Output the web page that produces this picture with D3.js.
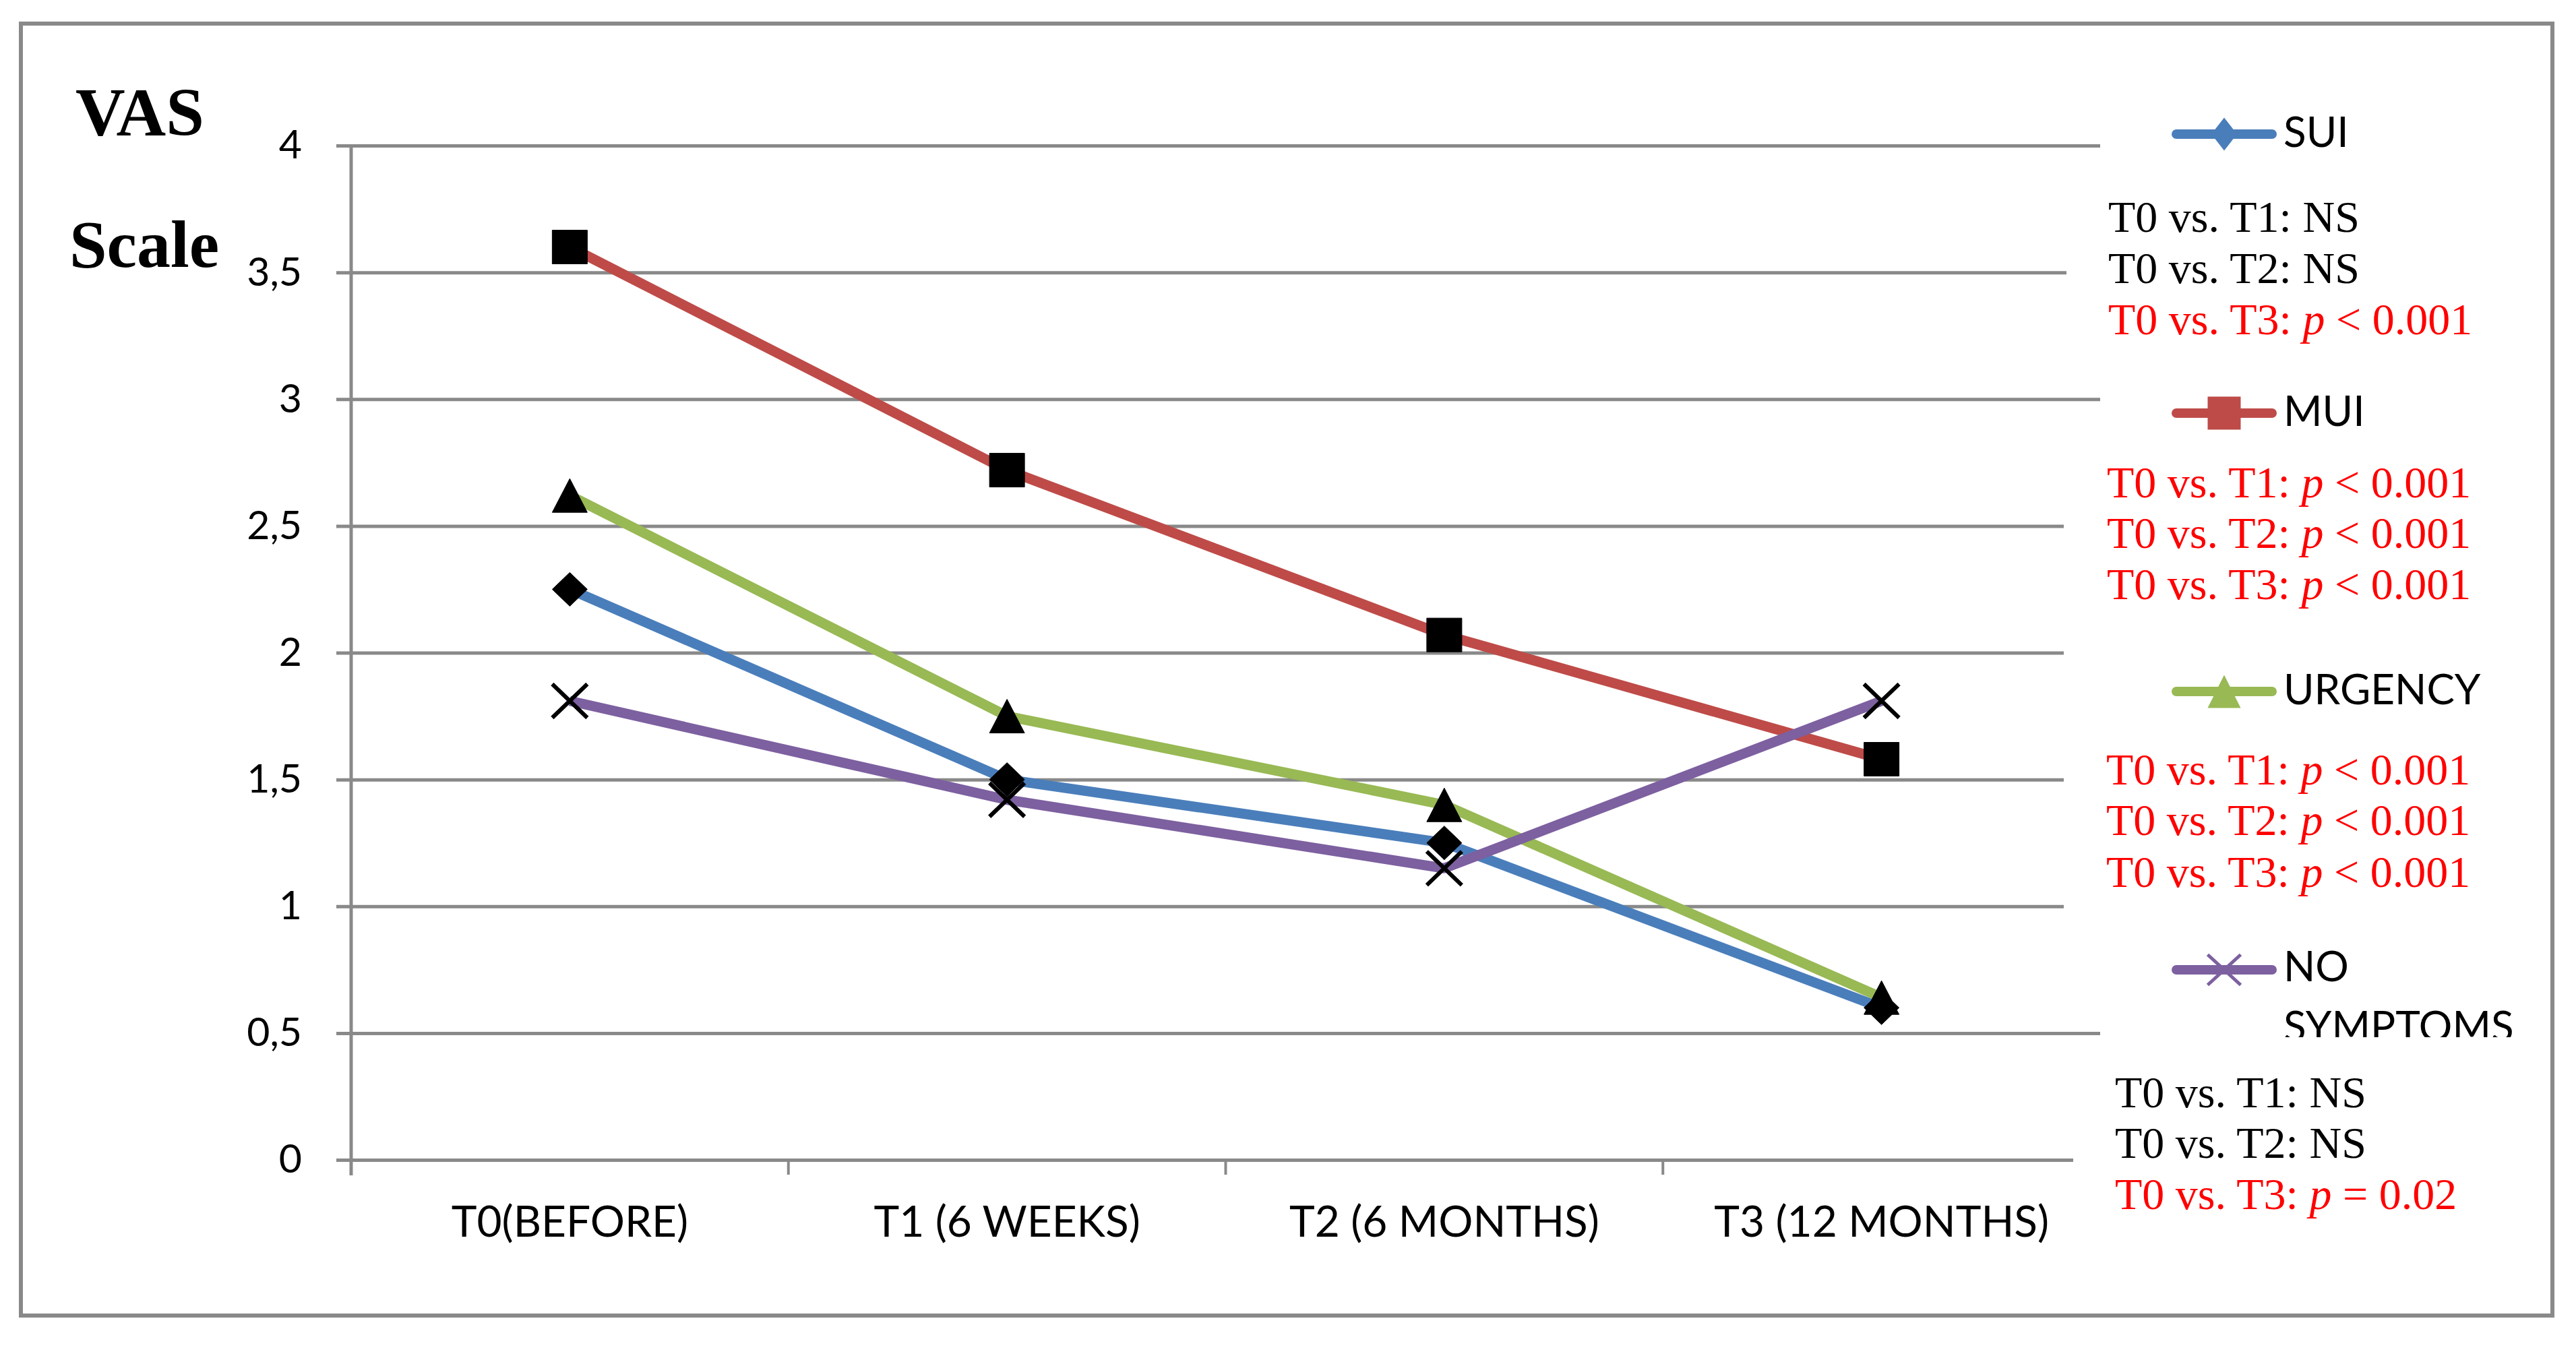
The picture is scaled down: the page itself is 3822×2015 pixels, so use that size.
<!DOCTYPE html>
<html>
<head>
<meta charset="utf-8">
<script src="https://cdn.jsdelivr.net/npm/d3@7/dist/d3.min.js"></script>
<style>
  html, body { margin: 0; padding: 0; background: #ffffff; }
  svg { display: block; }
</style>
</head>
<body>
<svg id="chart" width="3822" height="2015"></svg>
<script>
// ---------------- DATA ----------------
const categories = ["T0(BEFORE)", "T1 (6 WEEKS)", "T2 (6 MONTHS)", "T3 (12 MONTHS)"];
const seriesNames = ["SUI", "MUI", "URGENCY", "NO SYMPTOMS"];
const sui      = [2.25, 1.50, 1.25, 0.60];
const mui      = [3.60, 2.72, 2.07, 1.58];
const urgency  = [2.62, 1.75, 1.40, 0.64];
const noSympt  = [1.81, 1.42, 1.15, 1.81];
const yTicks   = [0, 0.5, 1, 1.5, 2, 2.5, 3, 3.5, 4];
const yTickLabels = ["0", "0,5", "1", "1,5", "2", "2,5", "3", "3,5", "4"];
const statsSUI     = [["T0 vs. T1: ", null, "NS"], ["T0 vs. T2: ", null, "NS"], ["T0 vs. T3: ", "p", " < 0.001"]];
const statsMUI     = [["T0 vs. T1: ", "p", " < 0.001"], ["T0 vs. T2: ", "p", " < 0.001"], ["T0 vs. T3: ", "p", " < 0.001"]];
const statsURG     = [["T0 vs. T1: ", "p", " < 0.001"], ["T0 vs. T2: ", "p", " < 0.001"], ["T0 vs. T3: ", "p", " < 0.001"]];
const statsNO      = [["T0 vs. T1: ", null, "NS"], ["T0 vs. T2: ", null, "NS"], ["T0 vs. T3: ", "p", " = 0.02"]];

// ---------------- STYLE ----------------
const colors = ["#4a7ebb", "#be4b48", "#98b954", "#7d60a0"];
const shapes = ["diamond", "square", "triangle", "x"];
const gridColor = "#898989";
const sansFont = "Lato, 'Open Sans', sans-serif";
const serifFont = "'Liberation Serif', 'Times New Roman', serif";

const svg = d3.select("#chart");

const plot = { left: 521, right: 3116, top: 216, bottom: 1721 };
const x = d3.scaleBand().domain(categories).range([plot.left, plot.right]);
const y = d3.scaleLinear().domain([0, 4]).range([plot.bottom, plot.top]);

// outer frame
svg.append("rect")
  .attr("x", 31).attr("y", 35).attr("width", 3787 - 31).attr("height", 1952 - 35)
  .attr("fill", "#fff").attr("stroke", gridColor).attr("stroke-width", 6);

// gridlines with left tick (via axis)
const yAxis = d3.axisLeft(y).tickValues(yTicks)
  .tickSize(-(plot.right - plot.left) - 22)
  .tickFormat((d, i) => yTickLabels[i]);
const gy = svg.append("g").attr("transform", `translate(${plot.left - 22},0)`).call(yAxis);
gy.select(".domain").remove();
gy.selectAll(".tick line").attr("stroke", gridColor).attr("stroke-width", 5);
gy.selectAll(".tick text")
  .attr("x", 448 - (plot.left - 22)).attr("dx", 0)
  .attr("font-family", sansFont).attr("font-size", 59).attr("fill", "#000");

// y axis vertical line
svg.append("line")
  .attr("x1", plot.left).attr("x2", plot.left)
  .attr("y1", plot.top).attr("y2", plot.bottom + 23)
  .attr("stroke", gridColor).attr("stroke-width", 5);

// x axis ticks at band boundaries
const boundaries = categories.map(c => x(c)).concat([plot.right]);
svg.append("g").selectAll("line").data(boundaries.slice(1)).join("line")
  .attr("x1", d => d).attr("x2", d => d)
  .attr("y1", plot.bottom).attr("y2", plot.bottom + 22)
  .attr("stroke", gridColor).attr("stroke-width", 4);

// x labels
svg.append("g").selectAll("text").data(categories).join("text")
  .attr("x", d => x(d) + x.bandwidth() / 2)
  .attr("y", 1835)
  .attr("text-anchor", "middle")
  .attr("font-family", sansFont).attr("font-size", 64).attr("fill", "#000")
  .text(d => d);

// white boxes of stats text covering gridlines
const boxes = [
  { x: 3066, y: 290, h: 230 },
  { x: 3062, y: 670, h: 310 },
  { x: 3062, y: 1095, h: 265 },
  { x: 3076, y: 1570, h: 250 }
];
svg.append("g").selectAll("rect").data(boxes).join("rect")
  .attr("x", d => d.x).attr("y", d => d.y)
  .attr("width", d => 3784 - d.x).attr("height", d => d.h)
  .attr("fill", "#fff");

// series lines
const series = [sui, mui, urgency, noSympt];
const line = d3.line()
  .x((d, i) => x(categories[i]) + x.bandwidth() / 2)
  .y(d => y(d));
svg.append("g").selectAll("path").data(series).join("path")
  .attr("d", d => line(d))
  .attr("fill", "none")
  .attr("stroke", (d, i) => colors[i])
  .attr("stroke-width", 15)
  .attr("stroke-linejoin", "round");

// marker path generator
function markerPath(shape, w, h) {
  const a = w / 2, b = h / 2;
  if (shape === "diamond") return `M0,${-b}L${a},0L0,${b}L${-a},0Z`;
  if (shape === "square") return `M${-a},${-b}H${a}V${b}H${-a}Z`;
  if (shape === "triangle") return `M0,${-b}L${a},${b}L${-a},${b}Z`;
  return `M${-a},${-b}L${a},${b}M${a},${-b}L${-a},${b}`;
}

// markers (black)
series.forEach((vals, si) => {
  svg.append("g").selectAll("path").data(vals).join("path")
    .attr("transform", (d, i) => `translate(${x(categories[i]) + x.bandwidth() / 2},${y(d)})`)
    .attr("d", markerPath(shapes[si], 52, 50))
    .attr("fill", shapes[si] === "x" ? "none" : "#000")
    .attr("stroke", "#000")
    .attr("stroke-width", shapes[si] === "x" ? 6 : 1);
});

// legend
const legendY = [199, 613, 1026, 1439];
const clip = svg.append("defs").append("clipPath").attr("id", "legclip");
clip.append("rect").attr("x", 3100).attr("y", 100).attr("width", 680).attr("height", 1439);
const legend = svg.append("g").attr("clip-path", "url(#legclip)");
const lg = legend.selectAll("g").data(seriesNames).join("g")
  .attr("transform", (d, i) => `translate(0,${legendY[i]})`);
lg.append("line")
  .attr("x1", 3229).attr("x2", 3371).attr("y1", 0).attr("y2", 0)
  .attr("stroke", (d, i) => colors[i]).attr("stroke-width", 14).attr("stroke-linecap", "round");
lg.append("path")
  .attr("transform", "translate(3300,0)")
  .attr("d", (d, i) => markerPath(shapes[i], i === 0 ? 38 : 49, i === 3 ? 45 : 49))
  .attr("fill", (d, i) => shapes[i] === "x" ? "none" : colors[i])
  .attr("stroke", (d, i) => colors[i])
  .attr("stroke-width", (d, i) => shapes[i] === "x" ? 5 : 0);
lg.each(function (d, i) {
  const t = d3.select(this).append("text")
    .attr("x", 3388).attr("y", 19)
    .attr("font-family", sansFont).attr("font-size", 62).attr("fill", "#000");
  if (d === "NO SYMPTOMS") {
    t.append("tspan").attr("x", 3388).attr("y", 17).text("NO");
    t.append("tspan").attr("x", 3388).attr("y", 106).text("SYMPTOMS");
  } else {
    t.text(d);
  }
});

// stats text
const statsBlocks = [
  { rows: statsSUI, x: 3128, ys: [344, 420, 496] },
  { rows: statsMUI, x: 3126, ys: [738, 813, 889] },
  { rows: statsURG, x: 3125, ys: [1164, 1239, 1316] },
  { rows: statsNO,  x: 3138, ys: [1643, 1718, 1794] }
];
statsBlocks.forEach(blk => {
  blk.rows.forEach((r, ri) => {
    const red = r[1] !== null;
    const t = svg.append("text")
      .attr("x", blk.x).attr("y", blk.ys[ri])
      .attr("font-family", serifFont).attr("font-size", 66)
      .attr("fill", red ? "#ff0000" : "#000")
      .attr("xml:space", "preserve");
    t.append("tspan").text(r[0]);
    if (r[1]) t.append("tspan").attr("font-style", "italic").text(r[1]);
    t.append("tspan").text(r[2]);
  });
});

// y title
svg.append("text").attr("x", 112).attr("y", 201)
  .attr("font-family", serifFont).attr("font-weight", "bold").attr("font-size", 102)
  .attr("fill", "#000").text("VAS");
svg.append("text").attr("x", 103).attr("y", 396)
  .attr("font-family", serifFont).attr("font-weight", "bold").attr("font-size", 100)
  .attr("fill", "#000").text("Scale");
</script>
</body>
</html>
